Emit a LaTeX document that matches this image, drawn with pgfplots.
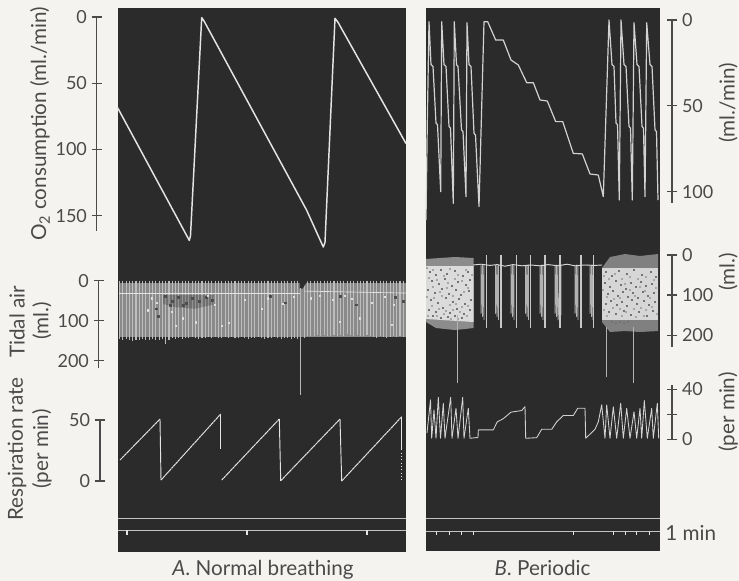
\documentclass[border=0pt]{standalone}
\usepackage{fontspec}
\setmainfont{Lato}
\usepackage{pgfplots}
\pgfplotsset{compat=1.18}
\definecolor{paper}{HTML}{F4F3EF}
\definecolor{dark}{HTML}{2B2B2B}
\definecolor{inkc}{HTML}{4A4A4A}
\definecolor{tr}{HTML}{E4E4E4}
\definecolor{trb}{HTML}{D2D2D2}
\newcommand\lbl{\fontsize{13.5}{15}\selectfont\color{inkc}}
\newcommand\ttl{\fontsize{15.5}{17}\selectfont\color{inkc}}
\pgfplotsset{
  every non boxed y axis/.append style={y axis line style=-},
  scalebar/.style={scale only axis, clip=false, axis x line=none,
    axis line style={-,inkc,line width=0.8pt}, tick style={inkc,line width=0.8pt},
    major tick length=8pt, tick align=outside,
    /pgf/number format/assume math mode=true,
    yticklabel style={font=\lbl,text=inkc}, scaled y ticks=false},
  panelA/.style={scalebar, width=216.375pt, xmin=117.5, xmax=406, axis y line=left},
  panelB/.style={scalebar, width=175.725pt, xmin=425.7, xmax=660, axis y line=right},
  every axis plot/.append style={line join=round},
}
\begin{document}
\begin{tikzpicture}
\useasboundingbox (0pt,0pt) rectangle (554.25pt,-435.75pt);
% ---------- canvas in pixel units: paper, dark panels, time marks, band texture, labels
\begin{axis}[at={(0pt,0pt)},anchor=north west,scale only axis,width=554.25pt,height=435.75pt,
  xmin=0,xmax=739,ymin=0,ymax=581,y dir=reverse,hide axis,clip=false]
\addplot[fill=paper,draw=none] coordinates {(0,0)(739,0)(739,581)(0,581)} --cycle;
\addplot[fill=dark,draw=none] coordinates {(117.5,8)(406,8)(406,552.3)(117.5,552.3)} --cycle;
\addplot[fill=dark,draw=none] coordinates {(425.7,8)(660,8)(660,550.7)(425.7,550.7)} --cycle;
% time traces
\addplot[tr!85!black,line width=0.7pt] coordinates {(118,518.3)(406,518.3)};
\addplot[tr!85!black,line width=0.7pt] coordinates {(118,530)(406,530)};
\addplot[tr!85!black,line width=0.7pt] coordinates {(426,518.3)(660,518.3)};
\addplot[tr!85!black,line width=0.7pt] coordinates {(426,531)(660,531)};
\addplot[tr,line width=0.8pt] coordinates {(127,530)(127,535)};
\addplot[tr,line width=0.8pt] coordinates {(247,530)(247,535)};
\addplot[tr,line width=0.8pt] coordinates {(367,530)(367,535)};
\addplot[tr,line width=0.6pt] coordinates {(436.7,531)(436.7,535)};
\addplot[tr,line width=0.6pt] coordinates {(449.3,531)(449.3,535)};
\addplot[tr,line width=0.6pt] coordinates {(461.7,531)(461.7,535)};
\addplot[tr,line width=0.6pt] coordinates {(473.3,531)(473.3,535)};
\addplot[tr,line width=0.6pt] coordinates {(573.3,531)(573.3,535)};
\addplot[tr,line width=0.6pt] coordinates {(613.3,531)(613.3,535)};
\addplot[tr,line width=0.6pt] coordinates {(625,531)(625,535)};
\addplot[tr,line width=0.6pt] coordinates {(636.7,531)(636.7,535)};
\addplot[tr,line width=0.6pt] coordinates {(649,531)(649,535)};
% tidal bands, panel A underlay
\addplot[fill=black!46,draw=none] coordinates {(118.5,283)(406,283)(406,337)(118.5,337)} --cycle;
% tidal bands, panel B
\addplot[fill=black!45,draw=none] coordinates {(426,259)(440,258)(455,257)(473.5,258)(473.5,328)(465,329)(455,330)(445,329)(436,328)(426,322)} --cycle;
\addplot[fill=black!14,draw=none] coordinates {(426,266)(473.5,266)(473.5,322)(426,319)} --cycle;
\addplot[fill=black!50,draw=none] coordinates {(602,268)(610,257)(625,254)(640,256)(658,254)(658,331)(640,332)(625,331)(610,332)(602,322)} --cycle;
\addplot[fill=black!16,draw=none] coordinates {(602,268)(658,268)(658,320)(602,320)} --cycle;
\addplot[only marks,mark=square*,black!55,mark size=0.5pt] coordinates {
(430,272)(436,275)(441,270)(447,274)(455,271)(463,276)(468,272)(432,281)(439,284)(445,279)
(452,286)(458,282)(466,285)(470,280)(428,290)(435,293)(442,289)(449,294)(456,290)(461,295)
(469,291)(431,300)(438,303)(446,298)(453,302)(459,299)(465,304)(471,300)(429,310)(436,312)
(443,308)(450,313)(457,309)(464,314)(470,310)(433,316)(441,318)(448,317)(455,316)(462,318)
(606,272)(612,276)(619,271)(627,274)(634,270)(642,275)(651,272)(656,277)(605,283)(610,287)
(616,281)(621,285)(626,289)(631,283)(636,287)(641,282)(646,286)(652,284)(608,294)(613,291)
(618,296)(623,292)(628,297)(633,293)(638,298)(643,292)(648,296)(654,293)(606,304)(611,301)
(617,305)(622,302)(627,306)(632,300)(637,304)(644,301)(649,305)(655,302)(609,312)(616,314)
(624,311)(631,315)(639,312)(647,316)(653,311)(612,322)(616,323)(620,322)(624,323)(628,322)};
\addplot[only marks,mark=square*,black!35,mark size=0.45pt] coordinates {
(427,268)(433,270)(444,276)(450,269)(458,275)(466,270)(472,275)(429,278)(437,280)(448,283)
(455,279)(462,281)(468,288)(433,287)(440,292)(447,288)(453,296)(464,292)(427,297)(434,298)
(442,296)(450,305)(456,304)(462,307)(468,306)(432,306)(439,309)(446,311)(453,310)(460,312)
(467,316)(428,316)(437,316)(444,314)(451,319)(458,319)
(604,276)(609,279)(615,274)(622,279)(630,277)(638,279)(646,277)(654,280)(603,290)(607,297)
(614,299)(620,298)(625,284)(630,290)(635,296)(640,287)(645,291)(650,298)(656,288)(604,310)
(613,308)(620,309)(626,312)(634,309)(641,308)(646,310)(652,307)(657,314)(607,316)(622,316)
(636,317)(644,316)};
% labels
\node[rotate=90,font=\ttl] at (40,124) {O\textsubscript{2} consumption (ml./min)};
\node[rotate=90,font=\ttl] at (17,322) {Tidal air};
\node[rotate=90,font=\ttl] at (42,321) {(ml.)};
\node[rotate=90,font=\ttl] at (17,449) {Respiration rate};
\node[rotate=90,font=\ttl] at (42,449) {(per min)};
\node[rotate=90,font=\ttl] at (728,103) {(ml./min)};
\node[rotate=90,font=\ttl] at (728,272) {(ml.)};
\node[rotate=90,font=\ttl] at (728,412) {(per min)};
\node[anchor=west,font=\ttl,inner sep=0pt] at (665,533) {1 min};
\node[font=\ttl] at (263,570) {\textit{A}. Normal breathing};
\node[font=\ttl] at (542.5,568) {\textit{B}. Periodic};
\end{axis}
% ---------- A: O2 consumption
\begin{axis}[panelA,at={(88.125pt,-12.75pt)},anchor=north west,height=160.5pt,
  ymin=0,ymax=161.5,y dir=reverse,ytick={0,50,100,150},axis y line shift=15.4pt]
\addplot[tr,line width=1.1pt] coordinates {(117.5,68.3)(189.3,168.6)(190.5,165)(201.7,0.5)(204,3)(306.7,145.9)(323.3,173.6)(325,170)(335,1)(338,4)(406,95.5)};
\end{axis}
% ---------- A: tidal air
\begin{axis}[panelA,at={(88.125pt,-210.5pt)},anchor=north west,height=65.5pt,
  ymin=0,ymax=218,y dir=reverse,ytick={0,100,200},axis y line shift=13.9pt]
\addplot[ycomb,black!26,line width=0.8pt] table {
119.5 146
122.8 148
126.1 145
129.4 149
132.7 150
136 147
139.3 148
142.6 146
145.9 149
149.2 147
152.5 146
155.8 148
159.1 147
162.4 146
165.7 157
169 147
172.3 144
175.6 146
178.9 143
182.2 145
185.5 142
188.8 144
192.1 141
195.4 143
198.7 145
202 142
205.3 144
208.6 141
211.9 143
215.2 140
218.5 142
221.8 144
225.1 141
228.4 143
231.7 140
235 142
238.3 144
241.6 141
244.9 143
248.2 145
251.5 142
254.8 144
258.1 141
261.4 143
264.7 145
268 142
271.3 144
274.6 141
277.9 143
281.2 145
284.5 142
287.8 144
291.1 146
294.4 143
297.7 145
304.3 142
307.6 139
310.9 137
314.2 139
317.5 136
320.8 138
324.1 135
327.4 137
330.7 139
334 136
337.3 138
340.6 135
343.9 137
347.2 134
350.5 136
353.8 138
357.1 135
360.4 137
363.7 139
367 136
370.3 138
373.6 140
376.9 142
380.2 139
383.5 141
386.8 143
390.1 140
393.4 139
396.7 141
400 138
403.3 140
};
% darker mottling and the gap at the sigh
\addplot[fill=black!80,draw=none,opacity=0.3] coordinates {(163,36)(213,36)(213,60)(195,70)(175,66)(163,58)} --cycle;
\addplot[only marks,mark=square*,black!70,mark size=0.7pt] coordinates {(165,40)(172,52)(178,42)(186,56)(192,44)(199,52)(206,42)(183,62)(212,50)(170,62)(156,70)(158,88)(270,40)(285,55)(340,38)(356,60)(395,42)(403,52)};
\addplot[only marks,mark=square*,black!12,mark size=0.45pt] coordinates {(152,44)(157,56)(148,74)(172,78)(183,94)(196,104)(208,38)(215,60)(229,106)(245,48)(262,71)(268,44)(283,58)(294,41)(311,44)(320,38)(333,48)(345,38)(352,46)(360,94)(372,56)(385,41)(394,60)(392,110)(340,103)(222,113)(176,113)};
\addplot[fill=dark,draw=none] coordinates {(299.5,-1)(308,-1)(302.5,20)(299.5,20)} --cycle;
\addplot[tr,line width=0.5pt] coordinates {(118.5,31)(300,31)};
\addplot[tr,line width=0.5pt] coordinates {(304,26)(406,31)};
\addplot[black!28,line width=0.9pt] coordinates {(300.7,18)(300.7,286)};
\end{axis}
% ---------- A: respiration rate
\begin{axis}[panelA,at={(88.125pt,-315pt)},anchor=north west,height=45.75pt,
  ymin=0,ymax=50,ytick={0,50},axis y line shift=13.1pt]
\addplot[tr,line width=0.75pt,dash pattern=on 2pt off 0.35pt] coordinates {(120,17.2)(160,50.8)};
\addplot[tr,line width=0.7pt] coordinates {(160,50.8)(161,0.8)};
\addplot[tr,line width=0.75pt,dash pattern=on 2pt off 0.35pt] coordinates {(161,0.8)(220.7,54.9)};
\addplot[tr,line width=0.7pt] coordinates {(220.7,54.9)(220.7,26)};
\addplot[tr,line width=0.75pt,dash pattern=on 2pt off 0.35pt] coordinates {(221.7,0.8)(279.3,50.8)};
\addplot[tr,line width=0.7pt] coordinates {(279.3,50.8)(280.7,0.2)};
\addplot[tr,line width=0.75pt,dash pattern=on 2pt off 0.35pt] coordinates {(280.7,0.2)(340,50.8)};
\addplot[tr,line width=0.7pt] coordinates {(340,50.8)(341.7,0)};
\addplot[tr,line width=0.75pt,dash pattern=on 2pt off 0.35pt] coordinates {(341.7,0)(401.7,52.7)};
\addplot[tr,line width=0.7pt] coordinates {(401.7,52.7)(401.7,26)};
\addplot[tr,line width=0.5pt,dotted] coordinates {(401.7,26)(401.7,0)};
\end{axis}
% ---------- B: O2 consumption
\begin{axis}[panelB,at={(319.275pt,-15pt)},anchor=north west,height=137.25pt,
  ymin=0,ymax=106.6,y dir=reverse,ytick={0,50,100},axis y line shift=9pt]
\addplot[trb,line width=0.9pt] coordinates {(426,116.5)(427.3,60)(429,1)(431,26)(433,27)(436,60)(437.5,61)(440.7,100)(441.7,1)(444,26)(446,27)(449,62)(450.5,63)(453.3,106.8)(454.3,1)(456.5,26)(458,27)(461.5,64)(463,65)(466,102.9)(467,1.6)(469,26)(471,27)(474,66)(475.5,67)(479,108.7)(484,1)(487.7,1)(495.7,11.7)(503.3,11.7)(511,23.3)(518.3,26.2)(526.7,36.5)(533.3,36.5)(540,46.6)(547.3,47.2)(555.7,59.2)(562.7,59.2)(573.3,77.7)(582.3,78)(590,89.7)(598.3,90.3)(603.3,102.9)(609,0)(612,26)(614,27)(616,60)(617.5,61)(619.3,104.9)(621,0)(624,26)(626,27)(629,62)(630.5,63)(632.3,104.9)(634,1.6)(637,26)(639,27)(642,62)(643.5,63)(645,102.9)(646.7,1.6)(650,26)(652,27)(655,64)(656.5,65)(658,104.9)};
\end{axis}
% ---------- B: tidal air
\begin{axis}[panelB,at={(319.275pt,-191.25pt)},anchor=north west,height=68.75pt,
  ymin=0,ymax=229,y dir=reverse,ytick={0,100,200},axis y line shift=9pt]
% quiet-phase burst strands
\addplot[black!30,line width=0.7pt] coordinates {(481,25)(481,146)(482.5,25)(482.5,154)(484,25)(484,162)};
\addplot[black!30,line width=0.7pt] coordinates {(495.5,25)(495.5,146)(497,25)(497,154)(498.5,25)(498.5,162)};
\addplot[black!30,line width=0.7pt] coordinates {(511,25)(511,146)(512.5,25)(512.5,154)(514,25)(514,162)};
\addplot[black!30,line width=0.7pt] coordinates {(525.5,25)(525.5,146)(527,25)(527,154)(528.5,25)(528.5,162)};
\addplot[black!30,line width=0.7pt] coordinates {(540,25)(540,146)(541.5,25)(541.5,154)(543,25)(543,162)};
\addplot[black!30,line width=0.7pt] coordinates {(555,25)(555,146)(556.5,25)(556.5,154)(558,25)(558,162)(561,25)(561,150)};
\addplot[black!30,line width=0.7pt] coordinates {(575,25)(575,146)(576.5,25)(576.5,154)(578,25)(578,162)};
\addplot[black!30,line width=0.7pt] coordinates {(590,25)(590,146)(591.5,25)(591.5,154)(593,25)(593,162)};
\addplot[ycomb,black!22,line width=0.8pt] coordinates {(486.3,182)(501,182)(516.3,182)(530.7,182)(545,182)(560,182)(581,182)(593.5,182)};
\addplot[black!15,line width=0.7pt] coordinates {(473,25)(481,23)(490,26)(497,24)(505,28)(513,24)(522,27)(531,25)(540,27)(548,24)(558,27)(567,23)(575,27)(585,25)(595,26)(602,25)};
\addplot[black!30,line width=0.9pt] coordinates {(457.7,150)(457.7,321)};
\addplot[black!30,line width=0.9pt] coordinates {(606.7,180)(606.7,304)};
\addplot[black!30,line width=0.9pt] coordinates {(633.3,180)(633.3,321)};
\end{axis}
% ---------- B: respiration rate
\begin{axis}[panelB,at={(319.275pt,-288.75pt)},anchor=north west,height=40.725pt,
  ymin=0,ymax=43.4,ytick={0,20,40},yticklabels={0,,40},axis y line shift=9pt]
\addplot[trb,line width=0.65pt] coordinates {(427,5)(430.5,31.5)(431.7,0.8)(434,23.5)(436,0.8)(438.3,33.6)(440.5,0.8)(443.3,28.8)(445,0.8)(450.7,33.6)(452,0.8)(456,24.8)(458,0.8)(462.7,33.6)(464,0.8)(468.3,24.8)(470,0.8)(478,1.5)(478.3,7.5)(483.3,7.5)(493.3,7.5)(497.3,14)(503.3,16.5)(511,21.7)(521.7,23)(525,26.1)(525.7,0.8)(536.7,1.3)(541.7,8)(551.7,8)(556.7,14)(563.3,19)(573.3,19)(577.7,24.8)(585,24.8)(585.7,0.8)(595,8)(598.3,14)(601.7,27.5)(605,0.8)(606.7,27.5)(610,0.8)(613.3,26)(616.7,0.8)(620.7,28.8)(623.3,0.8)(626.7,24.8)(630,0.8)(634,22)(636.7,0.8)(640,24.8)(641.7,0.8)(644.3,31)(647.3,0.8)(651.7,24.8)(653.3,0.8)(657.3,28.8)(658.7,0.8)};
\end{axis}
\end{tikzpicture}
\end{document}
